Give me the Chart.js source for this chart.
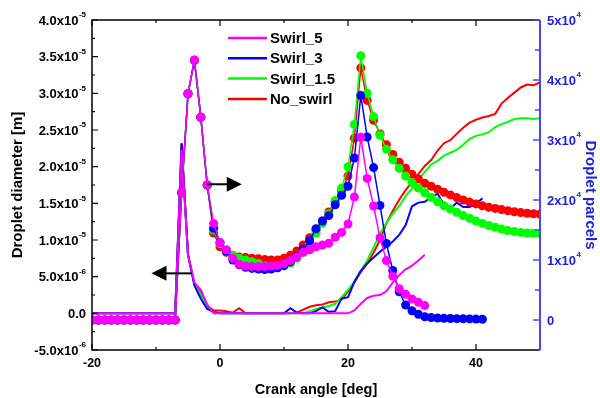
<!DOCTYPE html>
<html>
<head>
<meta charset="utf-8">
<script src="https://cdn.jsdelivr.net/npm/chart.js@4.4.0/dist/chart.umd.min.js"></script>
<style>
  html, body { margin: 0; padding: 0; background: #fff; }
  #wrap { width: 600px; height: 398px; }
</style>
</head>
<body>
<div id="wrap"><canvas id="chart"></canvas></div>
<script>
// crank angle, deg
const angles = [-20,-19,-18,-17,-16,-15,-14,-13,-12,-11,-10,-9,-8,-7,-6,-5,-4,-3,-2,-1,
  0,1,2,3,4,5,6,7,8,9,10,11,12,13,14,15,16,17,18,19,20,21,22,23,24,25,26,27,28,29,
  30,31,32,33,34,35,36,37,38,39,40,41,42,43,44,45,46,47,48,49,50];

const seriesNames = ['Swirl_5', 'Swirl_3', 'Swirl_1.5', 'No_swirl'];
const seriesColors = ['#ff00ff', '#0000ff', '#00ff00', '#ff0000'];

// droplet parcels (right axis), one value per degree from -20
const parcelsSwirl5 = [0,0,0,0,0,0,0,0,0,0,0,0,0,0,21200,37700,43300,33800,22500,
  16100,12900,11700,10300,9300,9000,8900,8900,8900,9000,9100,9400,9900,10500,11300,
  11700,12200,12500,12800,13800,14600,16000,20500,30450,23600,19000,13700,9900,7300,
  5200,4300,3500,2950,2400];
const parcelsSwirl3 = [0,0,0,0,0,0,0,0,0,0,0,0,0,0,21200,37700,43300,33800,22500,
  15300,12900,11500,10000,9200,8800,8600,8500,8400,8500,8700,9100,9700,10600,11800,
  13200,15200,16500,17400,19200,20800,22300,27000,37400,30500,25400,19100,12750,8250,
  4700,2500,1550,950,550,400,330,280,250,220,200,180,150,120];
const parcelsSwirl15 = [0,0,0,0,0,0,0,0,0,0,0,0,0,0,21200,37700,43300,33800,22500,
  15000,12700,11600,10800,10300,10000,9700,9400,9000,8800,8800,9000,9500,10300,11300,
  12800,14500,16100,17700,19900,21950,25550,32600,44050,37800,33900,30800,28450,26700,
  25300,24000,22900,22000,21200,20450,19700,19050,18500,17950,17400,16950,16500,16100,
  15750,15450,15150,14900,14750,14600,14500,14450,14400];
const parcelsNoSwirl = [0,0,0,0,0,0,0,0,0,0,0,0,0,0,21200,37700,43300,33800,22500,
  14500,12200,11300,10800,10500,10400,10300,10200,10100,10000,10000,10300,10800,11500,
  12500,13700,15000,16500,18000,19800,21500,24000,30300,42000,36600,33300,31000,29200,
  27600,26300,25300,24300,23500,22800,22300,21800,21300,20850,20400,20000,19650,19350,
  19050,18800,18600,18400,18200,18050,17900,17800,17700,17650];

// droplet diameter (left axis), in 1e-6 m, one value per degree from -20
const diamSwirl5 = [0,0,0,0,0,0,0,0,0,0,0,0,0,0,22.3,8,4.2,3.2,1.2,
  0,0,0,0,0,0,0,0,0,0,0,0,0,0,0,0,0,0,0,0,0,0,0.4,1.3,2.1,2.4,2.5,3.0,4.2,5.2,6.0,
  6.5,7.2,8.0];
const diamSwirl3 = [0,0,0,0,0,0,0,0,0,0,0,0,0,0,23.2,8,3.8,2.0,0.6,
  0.2,0,0,0,0,0,0,0,0,0,0,0,0.7,0.1,0,0,0.3,0.8,0.2,0.3,2.0,2.2,4.3,5.8,6.8,7.6,8.4,
  9.1,9.8,10.7,12.0,14.6,15.1,15.2,15.9,16.3,14.8,14.3,15.1,14.5,14.5,14.9,15.7];
const diamSwirl15 = [0,0,0,0,0,0,0,0,0,0,0,0,0,0,22.6,8,4.0,2.5,0.9,
  0.1,0,0,0,0,0,0,0,0,0,0,0,0,0,0,0.3,0.6,0.8,1.0,1.3,2.2,3.2,4.3,5.8,7.2,9.0,10.9,
  12.3,13.6,14.6,16.0,17.0,18.2,19.3,20.3,20.8,21.5,21.9,22.3,23.0,23.8,24.2,24.4,
  24.7,25.4,25.8,26.1,26.5,26.6,26.6,26.5,26.6];
const diamNoSwirl = [0,0,0,0,0,0,0,0,0,0,0,0,0,0,23.2,8,4.0,2.8,1.0,
  0.4,0.4,0.3,0.1,0.7,0,0,0,0,0,0,0,0,0.1,0.5,0.9,1.1,1.2,1.5,1.6,1.9,3.0,4.2,5.6,
  6.8,8.3,10.0,12.3,14.0,15.5,16.8,17.9,19.0,20.1,20.9,22.2,23.2,23.6,24.5,25.3,26.0,
  26.4,26.7,26.9,27.2,28.6,29.4,30.1,30.8,31.2,31.1,31.5];

// axes
const xMajorTicks = [-20, 0, 20, 40];
const xMinorTicks = [-10, 10, 30];
const leftMajorTicks = [-5, 0, 5, 10, 15, 20, 25, 30, 35, 40];
const leftTickLabels = [['-5.0', '-6'], ['0.0', ''], ['5.0', '-6'], ['1.0', '-5'], ['1.5', '-5'],
  ['2.0', '-5'], ['2.5', '-5'], ['3.0', '-5'], ['3.5', '-5'], ['4.0', '-5']];
const leftMinorTicks = [-2.5, 2.5, 7.5, 12.5, 17.5, 22.5, 27.5, 32.5, 37.5];
const rightMajorTicks = [0, 10000, 20000, 30000, 40000, 50000];
const rightTickLabels = [['0', ''], ['1', '4'], ['2', '4'], ['3', '4'], ['4', '4'], ['5', '4']];
const rightMinorTicks = [5000, 15000, 25000, 35000, 45000];

// arrows: [tail x, tip x, y] in left-axis data units
const arrowRight = [-2.1, 3.4, 17.6];
const arrowLeft = [-4.4, -10.7, 5.45];

const FONT = '"Liberation Sans", Arial, sans-serif';
const AXIS_BLUE = '#4646ff';
const LABEL_BLUE = '#2020d8';

const toPoints = vals => vals.map((v, i) => ({ x: angles[i], y: v }));

const parcelSets = [parcelsSwirl5, parcelsSwirl3, parcelsSwirl15, parcelsNoSwirl];
const diamSets = [diamSwirl5, diamSwirl3, diamSwirl15, diamNoSwirl];

const datasets = [];
parcelSets.forEach((vals, i) => {
  datasets.push({
    label: seriesNames[i] + ' parcels',
    data: toPoints(vals),
    yAxisID: 'y2',
    borderColor: seriesColors[i],
    backgroundColor: seriesColors[i],
    borderWidth: 1.5,
    pointRadius: 4.5,
    pointBorderWidth: 0,
    pointBackgroundColor: seriesColors[i]
  });
});
diamSets.forEach((vals, i) => {
  datasets.push({
    label: seriesNames[i],
    data: toPoints(vals),
    yAxisID: 'y',
    borderColor: seriesColors[i],
    backgroundColor: seriesColors[i],
    borderWidth: 2,
    pointRadius: 0
  });
});

function sciText(ctx, mant, exp, x, y, align, color) {
  const base = exp ? mant + 'x10' : mant;
  ctx.font = 'bold 13px ' + FONT;
  const bw = ctx.measureText(base).width;
  ctx.font = 'bold 8px ' + FONT;
  const ew = exp ? ctx.measureText(exp).width + 0.5 : 0;
  const x0 = align === 'right' ? x - bw - ew : x;
  ctx.fillStyle = color;
  ctx.textAlign = 'left';
  ctx.textBaseline = 'middle';
  ctx.font = 'bold 13px ' + FONT;
  ctx.fillText(base, x0, y + 1);
  if (exp) {
    ctx.font = 'bold 8px ' + FONT;
    ctx.fillText(exp, x0 + bw + 0.5, y - 5);
  }
}

function arrow(ctx, x1, x2, y) {
  const dir = Math.sign(x2 - x1);
  ctx.strokeStyle = '#000';
  ctx.fillStyle = '#000';
  ctx.lineWidth = 2;
  ctx.beginPath();
  ctx.moveTo(x1, y);
  ctx.lineTo(x2 - dir * 12, y);
  ctx.stroke();
  ctx.beginPath();
  ctx.moveTo(x2, y);
  ctx.lineTo(x2 - dir * 15, y - 7.5);
  ctx.lineTo(x2 - dir * 15, y + 7.5);
  ctx.closePath();
  ctx.fill();
}

const framePlugin = {
  id: 'frame',
  afterDatasetsDraw(chart) {
    const { ctx, chartArea: a, scales } = chart;
    const xs = scales.x, yl = scales.y, yr = scales.y2;
    ctx.save();

    // arrows
    arrow(ctx, xs.getPixelForValue(arrowRight[0]), xs.getPixelForValue(arrowRight[1]), yl.getPixelForValue(arrowRight[2]));
    arrow(ctx, xs.getPixelForValue(arrowLeft[0]), xs.getPixelForValue(arrowLeft[1]), yl.getPixelForValue(arrowLeft[2]));

    // black frame (left, top, bottom)
    ctx.strokeStyle = '#000';
    ctx.lineWidth = 1.5;
    ctx.beginPath();
    ctx.moveTo(a.right, a.top); ctx.lineTo(a.left, a.top);
    ctx.lineTo(a.left, a.bottom); ctx.lineTo(a.right, a.bottom);
    ctx.stroke();

    // x ticks (inward, top and bottom)
    ctx.lineWidth = 1.2;
    ctx.beginPath();
    xMajorTicks.forEach(v => {
      const px = xs.getPixelForValue(v);
      ctx.moveTo(px, a.bottom); ctx.lineTo(px, a.bottom - 6);
      ctx.moveTo(px, a.top); ctx.lineTo(px, a.top + 6);
    });
    xMinorTicks.forEach(v => {
      const px = xs.getPixelForValue(v);
      ctx.moveTo(px, a.bottom); ctx.lineTo(px, a.bottom - 3);
      ctx.moveTo(px, a.top); ctx.lineTo(px, a.top + 3);
    });
    // left ticks
    leftMajorTicks.forEach(v => {
      const py = yl.getPixelForValue(v);
      ctx.moveTo(a.left, py); ctx.lineTo(a.left + 6, py);
    });
    leftMinorTicks.forEach(v => {
      const py = yl.getPixelForValue(v);
      ctx.moveTo(a.left, py); ctx.lineTo(a.left + 3, py);
    });
    ctx.stroke();

    // right axis in blue
    ctx.strokeStyle = AXIS_BLUE;
    ctx.lineWidth = 2;
    ctx.beginPath();
    ctx.moveTo(a.right, a.top); ctx.lineTo(a.right, a.bottom);
    ctx.stroke();
    ctx.lineWidth = 1.5;
    ctx.beginPath();
    rightMajorTicks.forEach(v => {
      const py = yr.getPixelForValue(v);
      ctx.moveTo(a.right, py); ctx.lineTo(a.right - 7, py);
    });
    rightMinorTicks.forEach(v => {
      const py = yr.getPixelForValue(v);
      ctx.moveTo(a.right, py); ctx.lineTo(a.right - 5, py);
    });
    ctx.stroke();

    // tick labels
    leftMajorTicks.forEach((v, i) => {
      sciText(ctx, leftTickLabels[i][0], leftTickLabels[i][1], a.left - 6, yl.getPixelForValue(v), 'right', '#000');
    });
    rightMajorTicks.forEach((v, i) => {
      sciText(ctx, rightTickLabels[i][0], rightTickLabels[i][1], a.right + 7, yr.getPixelForValue(v), 'left', LABEL_BLUE);
    });
    ctx.fillStyle = '#000';
    ctx.font = 'bold 12.5px ' + FONT;
    ctx.textAlign = 'center';
    ctx.textBaseline = 'middle';
    xMajorTicks.forEach(v => ctx.fillText(String(v), xs.getPixelForValue(v), a.bottom + 14));

    // axis titles
    ctx.font = 'bold 14.5px ' + FONT;
    ctx.fillText('Crank angle [deg]', (a.left + a.right) / 2, a.bottom + 40);
    ctx.save();
    ctx.translate(18, (a.top + a.bottom) / 2);
    ctx.rotate(-Math.PI / 2);
    ctx.font = 'bold 15px ' + FONT;
    ctx.fillText('Droplet diameter [m]', 0, 0);
    ctx.restore();
    ctx.save();
    ctx.translate(590, (a.top + a.bottom) / 2 + 10);
    ctx.rotate(Math.PI / 2);
    ctx.fillStyle = LABEL_BLUE;
    ctx.font = 'bold 15px ' + FONT;
    ctx.fillText('Droplet parcels', 0, 0);
    ctx.restore();

    // legend
    const lx = xs.getPixelForValue(1.25);
    seriesNames.forEach((name, i) => {
      const ly = a.top + 18 + i * 20.3;
      ctx.strokeStyle = seriesColors[i];
      ctx.lineWidth = 2.5;
      ctx.beginPath();
      ctx.moveTo(lx, ly); ctx.lineTo(lx + 39, ly);
      ctx.stroke();
      ctx.fillStyle = '#000';
      ctx.font = 'bold 15px ' + FONT;
      ctx.textAlign = 'left';
      ctx.textBaseline = 'middle';
      ctx.fillText(name, lx + 42, ly + 1);
    });
    ctx.restore();
  }
};

new Chart(document.getElementById('chart'), {
  type: 'line',
  data: { datasets },
  options: {
    responsive: true,
    maintainAspectRatio: false,
    animation: false,
    layout: { padding: { left: 92, right: 60, top: 20, bottom: 48 } },
    plugins: { legend: { display: false }, tooltip: { enabled: false } },
    elements: { line: { tension: 0 } },
    scales: {
      x: { type: 'linear', min: -20, max: 50, display: false },
      y: { type: 'linear', position: 'left', min: -5, max: 40, display: false },
      y2: { type: 'linear', position: 'right', min: -5000, max: 50000, display: false }
    }
  },
  plugins: [framePlugin]
});
</script>
</body>
</html>
